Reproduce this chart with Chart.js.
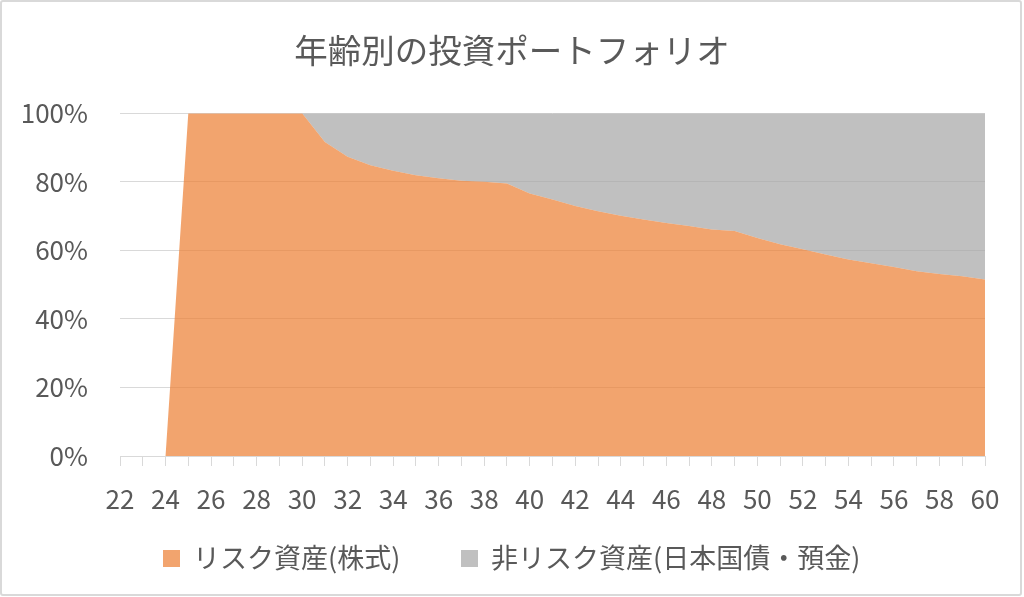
<!DOCTYPE html>
<html lang="ja">
<head>
<meta charset="utf-8">
<title>年齢別の投資ポートフォリオ</title>
<script src="https://cdn.jsdelivr.net/npm/chart.js@4/dist/chart.umd.min.js"></script>
<style>
	html, body { margin: 0; padding: 0; background: #fff; }
	#wrap { position: relative; width: 1024px; height: 597px; overflow: hidden; font-family: 'Noto Sans CJK JP', 'Noto Sans', sans-serif; }
	#chart { position: absolute; left: 0; top: 0; }
	#frame {
		position: absolute; left: 0; top: 0; width: 1022px; height: 596px;
		box-sizing: border-box; border: 2px solid #d9d9d9; border-radius: 3px;
		pointer-events: none;
	}
	.legend-item {
		position: absolute; top: 540px; height: 33px; line-height: 33px;
		font-size: 27px; color: #595959; white-space: nowrap;
		display: flex; align-items: center;
	}
	.legend-item span.box { display: inline-block; width: 17px; height: 17px; margin-right: 13px; margin-top: 3px; }
</style>
</head>
<body>
<div id="wrap">
	<canvas id="chart" width="1024" height="597"></canvas>
	<div id="legend"></div>
	<div id="frame"></div>
</div>
<script>
// ages on the x axis
const ages = ['22','23','24','25','26','27','28','29','30','31','32','33','34','35','36','37','38','39','40',
	'41','42','43','44','45','46','47','48','49','50','51','52','53','54','55','56','57','58','59','60'];

// リスク資産(株式) share, %
const riskAssets = [0, 0, 0, 100, 100, 100, 100, 100, 100, 91.6, 87.3, 84.8, 83.2, 81.9, 81.0, 80.3, 80.0, 79.5, 76.6,
	74.8, 72.9, 71.4, 70.1, 69.0, 68.0, 67.1, 66.1, 65.6, 63.6, 61.8, 60.3, 58.8, 57.3, 56.2, 55.1, 53.9, 53.1, 52.4, 51.5];

// 非リスク資産(日本国債・預金) share, %
const safeAssets = [0, 0, 0, 0, 0, 0, 0, 0, 0, 8.4, 12.7, 15.2, 16.8, 18.1, 19.0, 19.7, 20.0, 20.5, 23.4,
	25.2, 27.1, 28.6, 29.9, 31.0, 32.0, 32.9, 33.9, 34.4, 36.4, 38.2, 39.7, 41.2, 42.7, 43.8, 44.9, 46.1, 46.9, 47.6, 48.5];

const seriesNames = ['リスク資産(株式)', '非リスク資産(日本国債・預金)'];
const seriesColors = ['rgba(237, 125, 49, 0.7)', 'rgba(165, 165, 165, 0.7)'];
const yTicks = [0, 20, 40, 60, 80, 100];

const textColor = '#595959';
const gridColor = '#d9d9d9';

Chart.defaults.font.family = "'Noto Sans CJK JP', 'Noto Sans', sans-serif";
Chart.defaults.color = textColor;

const ctx = document.getElementById('chart');
const chart = new Chart(ctx, {
	type: 'line',
	data: {
		labels: ages,
		datasets: [
			{
				label: seriesNames[0],
				data: riskAssets,
				fill: 'origin',
				backgroundColor: seriesColors[0],
				borderColor: seriesColors[0],
				borderWidth: 0,
				pointRadius: 0,
				tension: 0
			},
			{
				label: seriesNames[1],
				data: safeAssets,
				fill: '-1',
				backgroundColor: seriesColors[1],
				borderColor: seriesColors[1],
				borderWidth: 0,
				pointRadius: 0,
				tension: 0
			}
		]
	},
	options: {
		responsive: false,
		animation: false,
		devicePixelRatio: 1,
		layout: {
			padding: { left: 0, right: 0, top: 0, bottom: 81 }
		},
		plugins: {
			title: {
				display: true,
				text: '年齢別の投資ポートフォリオ',
				color: textColor,
				font: { size: 33.5, weight: 'normal' },
				padding: { top: 30, bottom: 43 }
			},
			legend: { display: false }, // html legend below
			tooltip: { enabled: false }
		},
		scales: {
			x: {
				offset: false,
				grid: {
					display: true,
					drawOnChartArea: false,
					drawTicks: true,
					tickLength: 10,
					color: gridColor
				},
				border: { display: true, color: gridColor },
				ticks: {
					autoSkip: false,
					maxRotation: 0,
					padding: 18,
					font: { size: 26 },
					color: textColor,
					callback: function(value, index) {
						return index % 2 === 0 ? this.getLabelForValue(value) : '';
					}
				},
				afterFit: (scale) => { scale.height = 60; }
			},
			y: {
				stacked: true,
				min: 0,
				max: 100,
				afterBuildTicks: (scale) => { scale.ticks = yTicks.map(v => ({ value: v })); },
				grid: { color: gridColor, drawTicks: false },
				border: { display: false },
				ticks: {
					padding: 32,
					font: { size: 26 },
					color: textColor,
					callback: (v) => v + '%'
				},
				afterFit: (scale) => { scale.width = 120; }
			},
			// empty right margin so the title stays centred on the whole picture
			yRight: {
				position: 'right',
				display: true,
				grid: { display: false },
				border: { display: false },
				ticks: { display: false },
				afterFit: (scale) => { scale.width = 39; }
			}
		}
	}
});

// legend
const legendLeft = [163, 461];
const legendEl = document.getElementById('legend');
legendEl.innerHTML = seriesNames.map((name, i) => `
	<div class="legend-item" style="left:${legendLeft[i]}px">
		<span class="box" style="background:${seriesColors[i]}"></span>${name}
	</div>`).join('');
</script>
</body>
</html>
